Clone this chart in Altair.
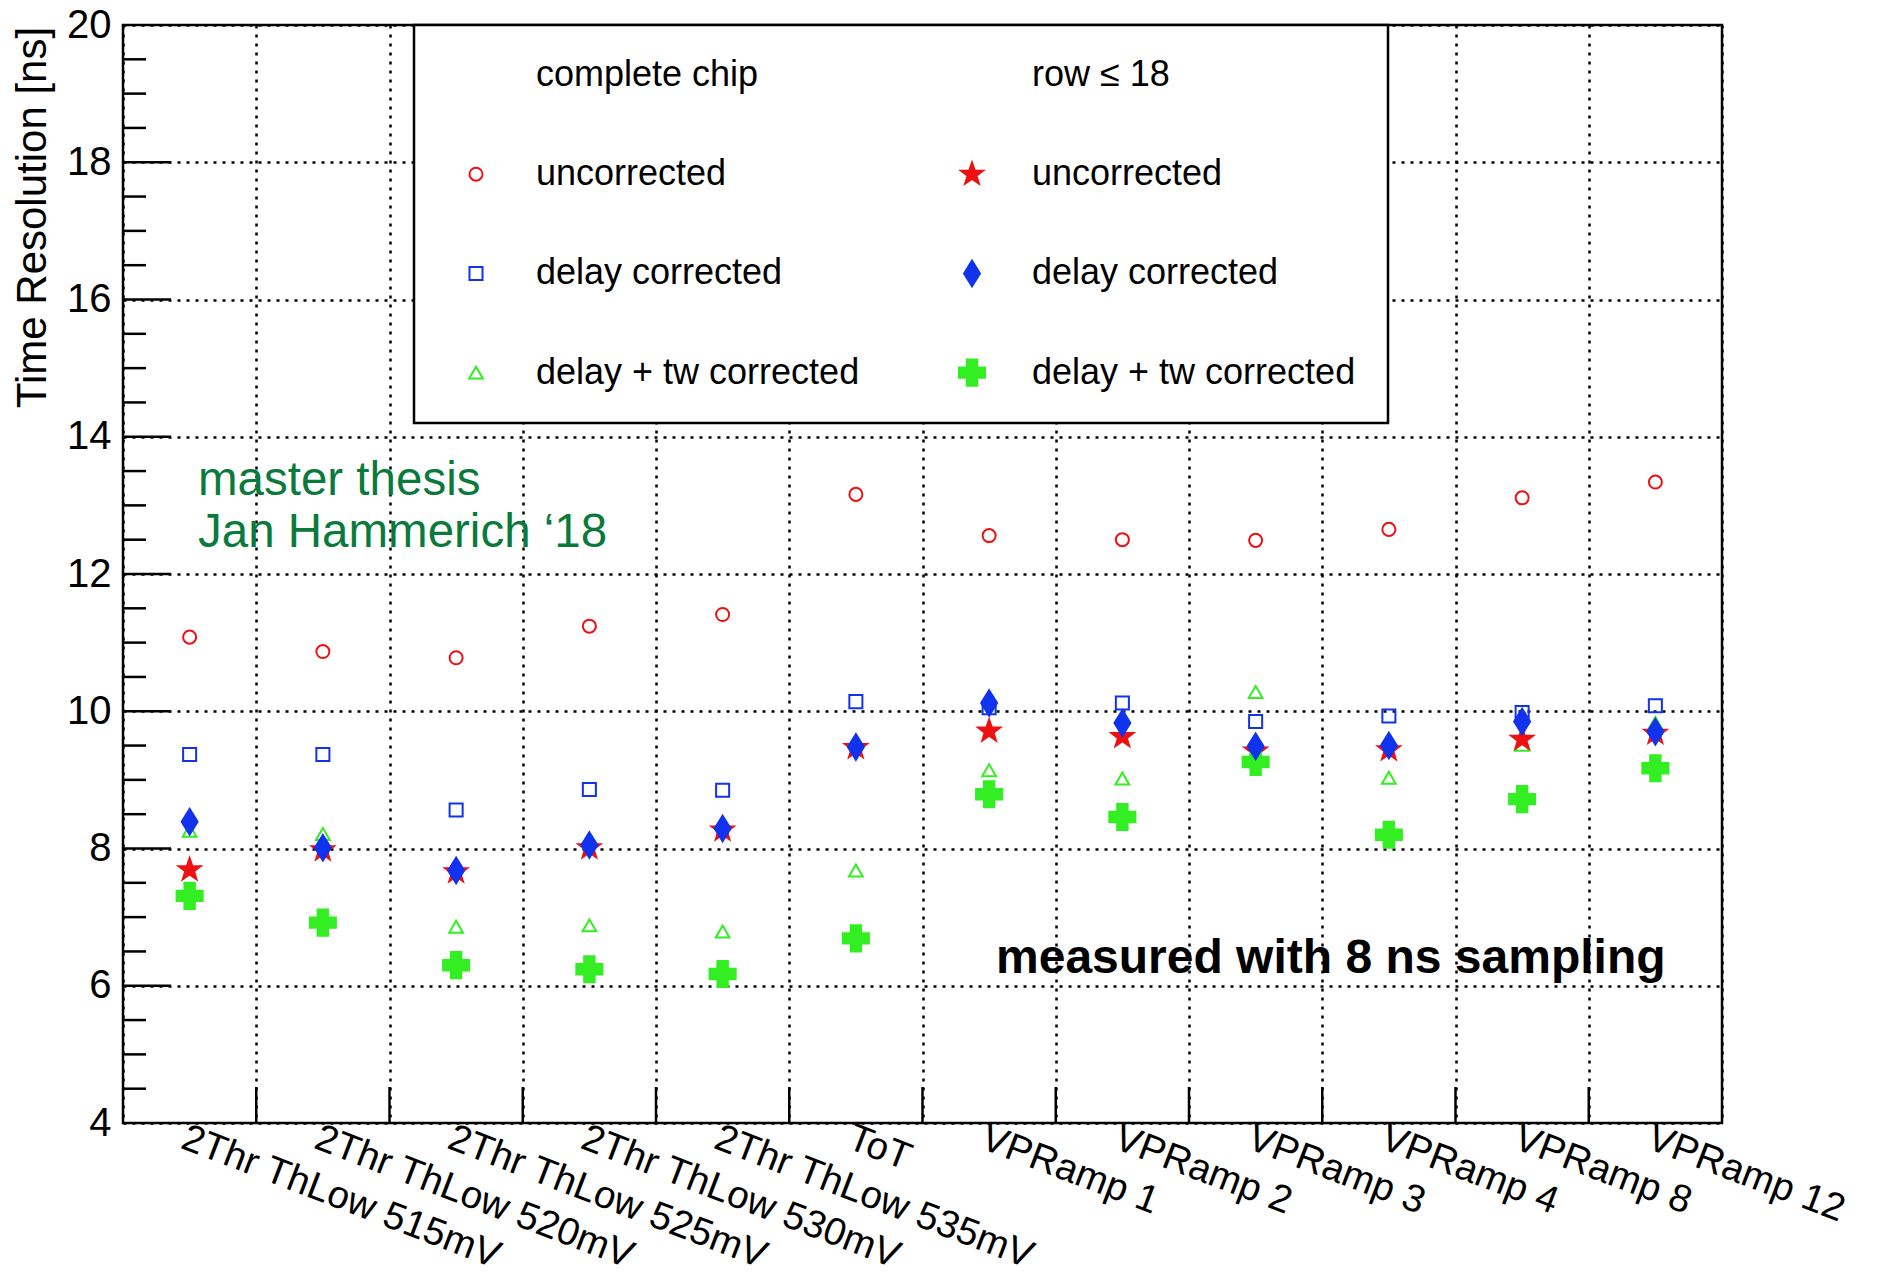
import altair as alt
import pandas as pd

# ---------------- data ----------------
categories = ["2Thr ThLow 515mV", "2Thr ThLow 520mV", "2Thr ThLow 525mV",
              "2Thr ThLow 530mV", "2Thr ThLow 535mV", "ToT",
              "VPRamp 1", "VPRamp 2", "VPRamp 3", "VPRamp 4", "VPRamp 8", "VPRamp 12"]

cc_uncorrected = [11.08, 10.87, 10.78, 11.24, 11.41, 13.16, 12.56, 12.50, 12.49, 12.65, 13.11, 13.34]
cc_delay       = [9.37, 9.37, 8.56, 8.86, 8.85, 10.14, 10.05, 10.12, 9.85, 9.93, 9.98, 10.08]
cc_delay_tw    = [8.26, 8.21, 6.86, 6.88, 6.79, 7.68, 9.14, 9.02, 10.28, 9.03, 9.51, 9.83]
row_uncorrected = [7.69, 7.98, 7.66, 8.01, 8.27, 9.47, 9.71, 9.63, 9.42, 9.44, 9.59, 9.68]
row_delay       = [8.39, 8.01, 7.68, 8.05, 8.29, 9.48, 10.12, 9.83, 9.49, 9.50, 9.85, 9.70]
row_delay_tw    = [7.31, 6.92, 6.30, 6.24, 6.17, 6.69, 8.79, 8.46, 9.26, 8.20, 8.72, 9.17]

# drawing order (later drawn on top)
series_data = [
    ("cc_unc", cc_uncorrected),
    ("cc_delay", cc_delay),
    ("cc_tw", cc_delay_tw),
    ("row_unc", row_uncorrected),
    ("row_tw", row_delay_tw),
    ("row_delay", row_delay),
]

# legend entries, column by column
legend_domain = ["hdr_cc", "cc_unc", "cc_delay", "cc_tw", "hdr_row", "row_unc", "row_delay", "row_tw"]
legend_labels = ["complete chip", "uncorrected", "delay corrected", "delay + tw corrected",
                 "row \u2264 18", "uncorrected", "delay corrected", "delay + tw corrected"]

y_labels = [4, 6, 8, 10, 12, 14, 16, 18, 20]
major_ticks = [6, 8, 10, 12, 14, 16, 18]
minor_ticks = [4.5, 5, 5.5, 6.5, 7, 7.5, 8.5, 9, 9.5, 10.5, 11, 11.5, 12.5, 13, 13.5,
               14.5, 15, 15.5, 16.5, 17, 17.5, 18.5, 19, 19.5]

thesis_lines = ["master thesis", "Jan Hammerich \u201818"]
sampling_note = "measured with 8 ns sampling"

# ---------------- styling ----------------
FONT = "Liberation Sans"
RED, BLUE, GREEN = "#ee1111", "#1133ee", "#33ee22"
STAR = ("M0,-1L0.235,-0.324L0.951,-0.309L0.380,0.124L0.588,0.809L0,0.4"
        "L-0.588,0.809L-0.380,0.124L-0.951,-0.309L-0.235,-0.324Z")
DIAMOND = "M0,-1L0.62,0L0,1L-0.62,0Z"

style = {
    "hdr_cc":    ("transparent", "transparent", "circle", 0),
    "hdr_row":   ("transparent", "transparent", "circle", 0),
    "cc_unc":    (RED, "transparent", "circle", 170),
    "cc_delay":  (BLUE, "transparent", "square", 170),
    "cc_tw":     (GREEN, "transparent", "triangle-up", 190),
    "row_unc":   (RED, RED, STAR, 540),
    "row_delay": (BLUE, BLUE, DIAMOND, 660),
    "row_tw":    (GREEN, GREEN, "cross", 680),
}
stroke_range = [style[k][0] for k in legend_domain]
fill_range = [style[k][1] for k in legend_domain]
shape_range = [style[k][2] for k in legend_domain]
size_range = [style[k][3] for k in legend_domain]

rows = []
for key, vals in series_data:
    for c, v in zip(categories, vals):
        rows.append({"cat": c, "value": v, "series": key})
df = pd.DataFrame(rows)

label_expr = " : ".join(
    f"datum.value == '{k}' ? '{lab}'" for k, lab in zip(legend_domain, legend_labels)
) + " : ''"

legend = alt.Legend(
    orient="none", legendX=291, legendY=0, columns=2, direction="vertical", title=None,
    values=legend_domain,
    labelFont=FONT, labelFontSize=36, labelColor="black", labelLimit=1000,
    labelExpr=label_expr, padding=32, rowPadding=63.2, columnPadding=82,
    symbolOffset=12, labelOffset=42, strokeColor="black", fillColor="white",
    symbolStrokeWidth=2,
)

W, H = 1599, 1098

yscale = alt.Scale(domain=[4, 20], nice=False, zero=False)
yaxis = alt.Axis(values=y_labels, grid=True, gridColor="black", gridDash=[3, 6],
                 gridWidth=2.5, gridOpacity=1, ticks=False, tickSize=0, domain=False,
                 labelFont=FONT, labelFontSize=40, labelColor="black", labelPadding=12,
                 title="Time Resolution [ns]", titleFont=FONT, titleFontSize=42,
                 titleFontWeight="normal", titleColor="black", titleAngle=270,
                 titleX=-91, titleY=192, titleAlign="center", titleBaseline="middle")
xscale = alt.Scale(paddingInner=0, paddingOuter=0)
xaxis = alt.Axis(title=None, tickBand="extent", grid=True, gridColor="black",
                 gridDash=[3, 6], gridWidth=2.5, gridOpacity=1, ticks=False, tickSize=0,
                 domain=False, labelAngle=21, labelAlign="left", labelBaseline="top",
                 labelPadding=-4, labelFont=FONT, labelFontSize=38.5, labelColor="black",
                 labelLimit=1000, labelOverlap=False, labelFlush=False)

def Y():
    return alt.Y("value:Q", scale=yscale, axis=yaxis)

def X(**kw):
    return alt.X("cat:N", sort=categories, scale=xscale, axis=xaxis, **kw)

points = alt.Chart(df).mark_point(strokeWidth=2, opacity=1, fillOpacity=1, strokeOpacity=1).encode(
    x=X(),
    y=Y(),
    stroke=alt.Stroke("series:N", scale=alt.Scale(domain=legend_domain, range=stroke_range), legend=legend),
    fill=alt.Fill("series:N", scale=alt.Scale(domain=legend_domain, range=fill_range), legend=legend),
    shape=alt.Shape("series:N", scale=alt.Scale(domain=legend_domain, range=shape_range), legend=legend),
    size=alt.Size("series:N", scale=alt.Scale(type="ordinal", domain=legend_domain, range=size_range), legend=legend),
)

major_df = pd.DataFrame({"value": major_ticks})
minor_df = pd.DataFrame({"value": minor_ticks})
xtick_df = pd.DataFrame({"cat": categories[1:]})

major_rules = alt.Chart(major_df).mark_rule(color="black", strokeWidth=2.5).encode(
    y=Y(), x=alt.value(0), x2=alt.value(48))
minor_rules = alt.Chart(minor_df).mark_rule(color="black", strokeWidth=2.5).encode(
    y=Y(), x=alt.value(0), x2=alt.value(23))
x_rules = alt.Chart(xtick_df).mark_rule(color="black", strokeWidth=2.5).encode(
    x=X(bandPosition=0), y=alt.value(H), y2=alt.value(H - 36))

thesis1 = alt.Chart(pd.DataFrame({"t": [thesis_lines[0]]})).mark_text(
    font=FONT, fontSize=47.5, color="#0a7a3c", align="left", baseline="alphabetic").encode(
    text="t:N", x=alt.value(75), y=alt.value(470))
thesis2 = alt.Chart(pd.DataFrame({"t": [thesis_lines[1]]})).mark_text(
    font=FONT, fontSize=47.5, color="#0a7a3c", align="left", baseline="alphabetic").encode(
    text="t:N", x=alt.value(75), y=alt.value(522))
note = alt.Chart(pd.DataFrame({"t": [sampling_note]})).mark_text(
    font=FONT, fontSize=48, fontWeight="bold", color="black", align="left",
    baseline="alphabetic").encode(text="t:N", x=alt.value(873), y=alt.value(948))

chart = alt.layer(points, major_rules, minor_rules, x_rules, thesis1, thesis2, note).properties(
    width=W, height=H,
    autosize=alt.AutoSizeParams(type="none"),
    padding={"left": 115, "top": 17, "right": 140, "bottom": 147},
    background="white",
).configure_view(stroke="black", strokeWidth=2.5).configure_legend(strokeWidth=2.5)

chart.save("out.html", embed_options={"renderer": "svg", "actions": False})
